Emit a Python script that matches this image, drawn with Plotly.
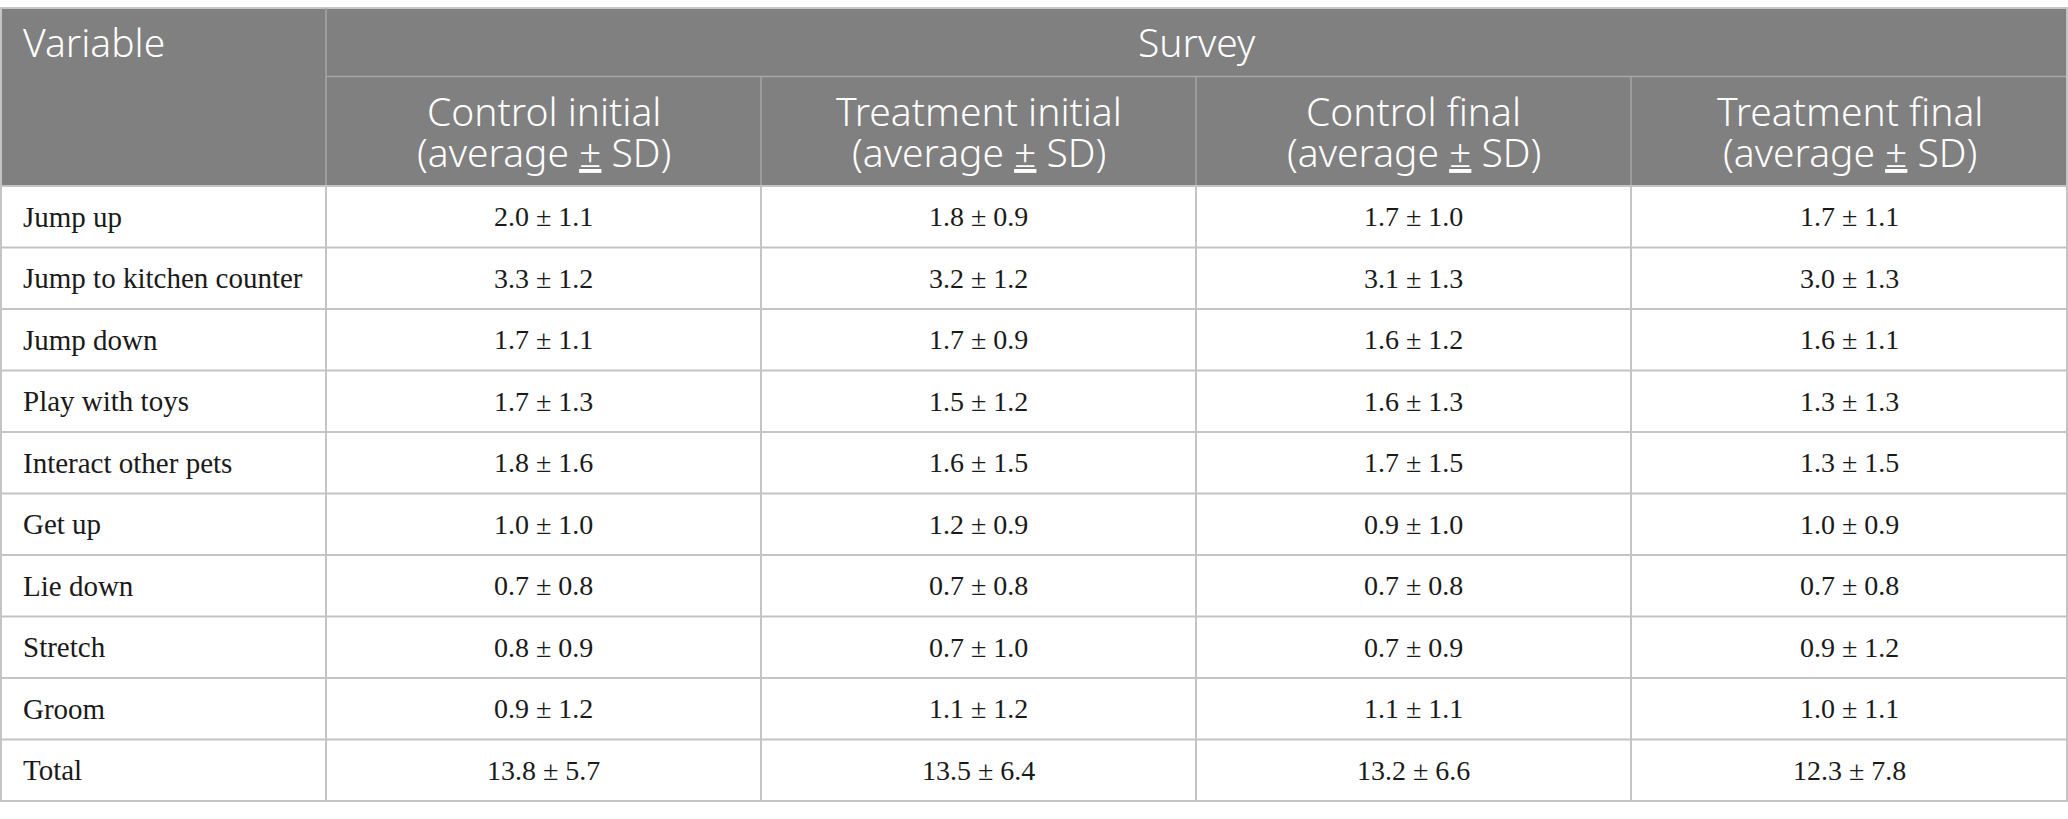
import plotly.graph_objects as go

# table content
variables = ["Jump up", "Jump to kitchen counter", "Jump down", "Play with toys",
             "Interact other pets", "Get up", "Lie down", "Stretch", "Groom", "Total"]
groups = ["Control initial", "Treatment initial", "Control final", "Treatment final"]
control_initial = ["2.0 ± 1.1", "3.3 ± 1.2", "1.7 ± 1.1", "1.7 ± 1.3", "1.8 ± 1.6",
                   "1.0 ± 1.0", "0.7 ± 0.8", "0.8 ± 0.9", "0.9 ± 1.2", "13.8 ± 5.7"]
treatment_initial = ["1.8 ± 0.9", "3.2 ± 1.2", "1.7 ± 0.9", "1.5 ± 1.2", "1.6 ± 1.5",
                     "1.2 ± 0.9", "0.7 ± 0.8", "0.7 ± 1.0", "1.1 ± 1.2", "13.5 ± 6.4"]
control_final = ["1.7 ± 1.0", "3.1 ± 1.3", "1.6 ± 1.2", "1.6 ± 1.3", "1.7 ± 1.5",
                 "0.9 ± 1.0", "0.7 ± 0.8", "0.7 ± 0.9", "1.1 ± 1.1", "13.2 ± 6.6"]
treatment_final = ["1.7 ± 1.1", "3.0 ± 1.3", "1.6 ± 1.1", "1.3 ± 1.3", "1.3 ± 1.5",
                   "1.0 ± 0.9", "0.7 ± 0.8", "0.9 ± 1.2", "1.0 ± 1.1", "12.3 ± 7.8"]
columns = [control_initial, treatment_initial, control_final, treatment_final]

W, H = 2068, 819
col_w = [326, 435, 435, 435, 437]
top, mid, head_bot, row_h = 8, 76.5, 186, 61.5

HEAD_BG = "#808080"
HEAD_LINE = "#a6a6a6"
GRID = "#c4c4c4"
SANS = "Noto Sans"
SERIF = "Liberation Serif"
head_font = dict(family=SANS, size=39, color="white", weight=300)
body_font = dict(family=SERIF, size=28, color="#1a1a1a")

edges = [0]
for w in col_w:
    edges.append(edges[-1] + w)
bottom = head_bot + row_h * len(variables)

shapes = []
annotations = []

# header block
shapes.append(dict(type="rect", x0=0, x1=W, y0=top, y1=head_bot,
                   fillcolor=HEAD_BG, line=dict(width=0), layer="below"))
shapes.append(dict(type="line", x0=0, x1=W, y0=top, y1=top,
                   line=dict(color=GRID, width=2)))
shapes.append(dict(type="line", x0=edges[1], x1=W, y0=mid, y1=mid,
                   line=dict(color=HEAD_LINE, width=1.5)))
shapes.append(dict(type="line", x0=edges[1], x1=edges[1], y0=top, y1=head_bot,
                   line=dict(color=HEAD_LINE, width=1.5)))
for e in edges[2:-1]:
    shapes.append(dict(type="line", x0=e, x1=e, y0=mid, y1=head_bot,
                       line=dict(color=HEAD_LINE, width=1.5)))

annotations.append(dict(x=21, y=(top + mid) / 2 - 1, text="Variable", xanchor="left",
                        font=head_font))
annotations.append(dict(x=(edges[1] + W) / 2, y=(top + mid) / 2 - 1, text="Survey",
                        font=head_font))
hc = (mid + head_bot) / 2
for i, g in enumerate(groups):
    cx = (edges[i + 1] + edges[i + 2]) / 2
    annotations.append(dict(x=cx, y=hc - 21, text=g, font=head_font))
    annotations.append(dict(x=cx, y=hc + 20, text="(average <u>±</u> SD)",
                            font=head_font))

# body grid
for r in range(len(variables) + 1):
    y = head_bot + r * row_h
    shapes.append(dict(type="line", x0=0, x1=W, y0=y, y1=y,
                       line=dict(color=GRID, width=2)))
for e in edges:
    x = min(max(e, 1), W - 1)
    shapes.append(dict(type="line", x0=x, x1=x, y0=head_bot, y1=bottom,
                       line=dict(color=GRID, width=2)))
shapes.append(dict(type="line", x0=1, x1=1, y0=top, y1=head_bot,
                   line=dict(color=GRID, width=2)))
shapes.append(dict(type="line", x0=W - 1, x1=W - 1, y0=top, y1=head_bot,
                   line=dict(color=GRID, width=2)))

# body text
for r, v in enumerate(variables):
    cy = head_bot + (r + 0.5) * row_h
    annotations.append(dict(x=21, y=cy, text=v, xanchor="left",
                            font=dict(body_font, size=29)))
    for c, col in enumerate(columns):
        cx = (edges[c + 1] + edges[c + 2]) / 2
        annotations.append(dict(x=cx, y=cy, text=col[r], font=body_font))

for a in annotations:
    a.update(xref="x", yref="y", showarrow=False, yanchor="middle")

fig = go.Figure()
fig.update_layout(
    width=W, height=H,
    margin=dict(l=0, r=0, t=0, b=0),
    paper_bgcolor="white", plot_bgcolor="white",
    xaxis=dict(range=[0, W], visible=False, fixedrange=True),
    yaxis=dict(range=[H, 0], visible=False, fixedrange=True),
    shapes=shapes, annotations=annotations,
    showlegend=False,
)
# drop the default page margin so the table sits flush with the window
fig.write_html("out.html", config={"displayModeBar": False},
               post_script="document.body.style.margin='0';")
